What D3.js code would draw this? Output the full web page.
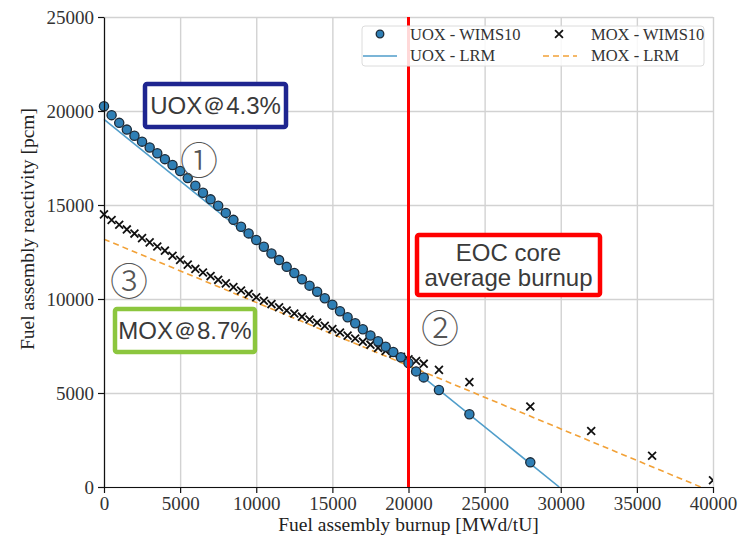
<!DOCTYPE html>
<html lang="en">
<head>
<meta charset="utf-8">
<title>Fuel assembly reactivity</title>
<script src="https://d3js.org/d3.v7.min.js"></script>
<style>
  body { margin: 0; background: #fff; }
  .axis text { font-family: "Liberation Serif", "DejaVu Serif", serif; font-size: 19px; fill: #333; }
  .axis path, .axis line { stroke: #111; stroke-width: 1.2; }
  .grid line { stroke: #d2d2d2; stroke-width: 1.4; }
  .grid path { display: none; }
</style>
</head>
<body>
<script>
// burnup points (MWd/tU) and reactivity (pcm)
var uoxBurnup = [0, 500, 1000, 1500, 2000, 2500, 3000, 3500, 4000, 4500,
  5000, 5500, 6000, 6500, 7000, 7500, 8000, 8500, 9000, 9500,
  10000, 10500, 11000, 11500, 12000, 12500, 13000, 13500, 14000, 14500,
  15000, 15500, 16000, 16500, 17000, 17500, 18000, 18500, 19000, 19500,
  20000, 20500, 21000, 22000, 24000, 28000];
var uoxWims = [20250, 19780, 19370, 19010, 18680, 18370, 18060, 17750, 17440, 17130,
  16810, 16430, 16030, 15650, 15300, 14960, 14580, 14210, 13840, 13490,
  13140, 12780, 12420, 12070, 11710, 11380, 11050, 10710, 10390, 10040,
  9700, 9350, 9030, 8710, 8390, 8060, 7750, 7460, 7180, 6900,
  6600, 6150, 5830, 5160, 3870, 1310];

var moxBurnup = [0, 500, 1000, 1500, 2000, 2500, 3000, 3500, 4000, 4500,
  5000, 5500, 6000, 6500, 7000, 7500, 8000, 8500, 9000, 9500,
  10000, 10500, 11000, 11500, 12000, 12500, 13000, 13500, 14000, 14500,
  15000, 15500, 16000, 16500, 17000, 17500, 18000, 18500, 19000, 19500,
  20000, 20500, 21000, 22000, 24000, 28000, 32000, 36000, 40000];
var moxWims = [14500, 14200, 13950, 13700, 13480, 13240, 13010, 12790, 12570, 12300,
  12080, 11830, 11600, 11410, 11220, 11020, 10830, 10630, 10450, 10270,
  10090, 9910, 9730, 9560, 9390, 9230, 9060, 8910, 8740, 8570,
  8400, 8220, 8050, 7900, 7730, 7570, 7400, 7240, 7090, 6930,
  6790, 6700, 6560, 6230, 5580, 4280, 2980, 1660, 360];

// linear reactivity model lines (end points)
var uoxLrmBurnup = [0, 29900];
var uoxLrm = [19550, 0];
var moxLrmBurnup = [0, 39200];
var moxLrm = [13180, 0];

var eocBurnup = 20000;
var xTicks = [0, 5000, 10000, 15000, 20000, 25000, 30000, 35000, 40000];
var yTicks = [0, 5000, 10000, 15000, 20000, 25000];

var w = 746, h = 540;
var pLeft = 104, pRight = 713, pTop = 17, pBottom = 487;

var svg = d3.select("body").append("svg")
  .attr("width", w)
  .attr("height", h);

var xScale = d3.scaleLinear().domain([0, 40000]).range([pLeft, pRight]);
var yScale = d3.scaleLinear().domain([0, 25000]).range([pBottom, pTop]);

// grid
svg.append("g")
  .attr("class", "grid")
  .attr("transform", "translate(0," + pBottom + ")")
  .call(d3.axisBottom(xScale).tickValues(xTicks).tickSize(-(pBottom - pTop)).tickFormat(""));
svg.append("g")
  .attr("class", "grid")
  .attr("transform", "translate(" + pLeft + ",0)")
  .call(d3.axisLeft(yScale).tickValues(yTicks).tickSize(-(pRight - pLeft)).tickFormat(""));

svg.append("clipPath").attr("id", "clip")
  .append("rect")
  .attr("x", 0).attr("y", 0)
  .attr("width", pRight).attr("height", pBottom);

var plot = svg.append("g").attr("clip-path", "url(#clip)");

var line = d3.line()
  .x(function(d) { return xScale(d[0]); })
  .y(function(d) { return yScale(d[1]); });

plot.append("path")
  .datum(d3.zip(uoxLrmBurnup, uoxLrm))
  .attr("d", line)
  .attr("fill", "none")
  .attr("stroke", "#4f9dca")
  .attr("stroke-width", 1.6);

plot.append("path")
  .datum(d3.zip(moxLrmBurnup, moxLrm))
  .attr("d", line)
  .attr("fill", "none")
  .attr("stroke", "#f2a137")
  .attr("stroke-width", 1.6)
  .attr("stroke-dasharray", "6,4");

// MOX crosses
var cross = d3.symbol().type(d3.symbolX).size(42);
plot.selectAll("path.mox")
  .data(d3.zip(moxBurnup, moxWims))
  .enter()
  .append("path")
  .attr("class", "mox")
  .attr("d", cross)
  .attr("transform", function(d) { return "translate(" + xScale(d[0]) + "," + yScale(d[1]) + ")"; })
  .attr("stroke", "#111")
  .attr("stroke-width", 1.8)
  .attr("fill", "none");

// UOX circles
plot.selectAll("circle.uox")
  .data(d3.zip(uoxBurnup, uoxWims))
  .enter()
  .append("circle")
  .attr("class", "uox")
  .attr("cx", function(d) { return xScale(d[0]); })
  .attr("cy", function(d) { return yScale(d[1]); })
  .attr("r", 4.6)
  .attr("fill", "#2f7fb5")
  .attr("stroke", "#1b2a38")
  .attr("stroke-width", 1.3);

// axes
svg.append("g")
  .attr("class", "axis")
  .attr("transform", "translate(0," + pBottom + ")")
  .call(d3.axisBottom(xScale).tickValues(xTicks).tickSize(6).tickSizeOuter(0).tickPadding(4).tickFormat(d3.format("d")));
svg.append("g")
  .attr("class", "axis")
  .attr("transform", "translate(" + pLeft + ",0)")
  .call(d3.axisLeft(yScale).tickValues(yTicks).tickSize(6).tickSizeOuter(0).tickPadding(4).tickFormat(d3.format("d")));

// EOC line
svg.append("line")
  .attr("x1", xScale(eocBurnup)).attr("x2", xScale(eocBurnup))
  .attr("y1", pTop).attr("y2", pBottom)
  .attr("stroke", "#ff0000")
  .attr("stroke-width", 3);

// axis titles
svg.append("text")
  .attr("x", (pLeft + pRight) / 2)
  .attr("y", 531)
  .attr("text-anchor", "middle")
  .style("font-family", "'Liberation Serif', serif")
  .style("font-size", "19.5px")
  .attr("fill", "#222")
  .text("Fuel assembly burnup [MWd/tU]");
svg.append("text")
  .attr("transform", "translate(34," + 229 + ") rotate(-90)")
  .attr("text-anchor", "middle")
  .style("font-family", "'Liberation Serif', serif")
  .style("font-size", "19.5px")
  .attr("fill", "#222")
  .text("Fuel assembly reactivity [pcm]");

// legend
var lg = svg.append("g");
lg.append("rect")
  .attr("x", 362).attr("y", 26).attr("width", 342).attr("height", 40)
  .attr("rx", 3)
  .attr("fill", "#fff").attr("fill-opacity", 0.85)
  .attr("stroke", "#dcdcdc");
lg.append("circle").attr("cx", 380).attr("cy", 34).attr("r", 3.8)
  .attr("fill", "#2f7fb5").attr("stroke", "#1b2a38").attr("stroke-width", 1.3);
lg.append("path").attr("d", cross)
  .attr("transform", "translate(559,34)")
  .attr("stroke", "#111").attr("stroke-width", 1.8);
lg.append("line").attr("x1", 363).attr("x2", 397).attr("y1", 56).attr("y2", 56)
  .attr("stroke", "#4f9dca").attr("stroke-width", 1.6);
lg.append("line").attr("x1", 543).attr("x2", 577).attr("y1", 56).attr("y2", 56)
  .attr("stroke", "#f2a137").attr("stroke-width", 1.6).attr("stroke-dasharray", "6,4");
var legendText = [["UOX - WIMS10", 410, 40], ["MOX - WIMS10", 591, 40], ["UOX - LRM", 410, 61], ["MOX - LRM", 591, 61]];
lg.selectAll("text")
  .data(legendText)
  .enter()
  .append("text")
  .attr("x", function(d) { return d[1]; })
  .attr("y", function(d) { return d[2]; })
  .style("font-family", "'Liberation Serif', serif")
  .style("font-size", "16.5px")
  .attr("fill", "#333")
  .text(function(d) { return d[0]; });

// annotation boxes
function box(x, y, bw, bh, color, lines, ty) {
  svg.append("rect")
    .attr("x", x).attr("y", y).attr("width", bw).attr("height", bh)
    .attr("rx", 2)
    .attr("fill", "#fff")
    .attr("stroke", color)
    .attr("stroke-width", 4.5);
  lines.forEach(function(t, i) {
    svg.append("text")
      .attr("x", x + bw / 2)
      .attr("y", ty + i * 25)
      .attr("text-anchor", "middle")
      .style("font-family", "'Liberation Sans', Arial, sans-serif")
      .style("font-size", "24px")
      .attr("fill", "#3a3a3a")
      .text(t);
  });
}
box(145, 84, 141, 43, "#1e2590", ["UOX＠4.3%"], 114);
box(115, 309, 140, 43, "#8cc63e", ["MOX＠8.7%"], 339);
box(417, 235, 183, 60, "#ff0000", ["EOC core", "average burnup"], 261);

// circled numbers
var marks = [["①", 199, 157], ["②", 440, 325], ["③", 129, 278]];
svg.selectAll("text.mark")
  .data(marks)
  .enter()
  .append("text")
  .attr("class", "mark")
  .attr("x", function(d) { return d[1]; })
  .attr("y", function(d) { return d[2]; })
  .attr("text-anchor", "middle")
  .attr("dominant-baseline", "central")
  .style("font-family", "'Noto Sans CJK JP', sans-serif")
  .style("font-size", "38px")
  .style("font-weight", "300")
  .attr("fill", "#555")
  .text(function(d) { return d[0]; });
</script>
</body>
</html>
